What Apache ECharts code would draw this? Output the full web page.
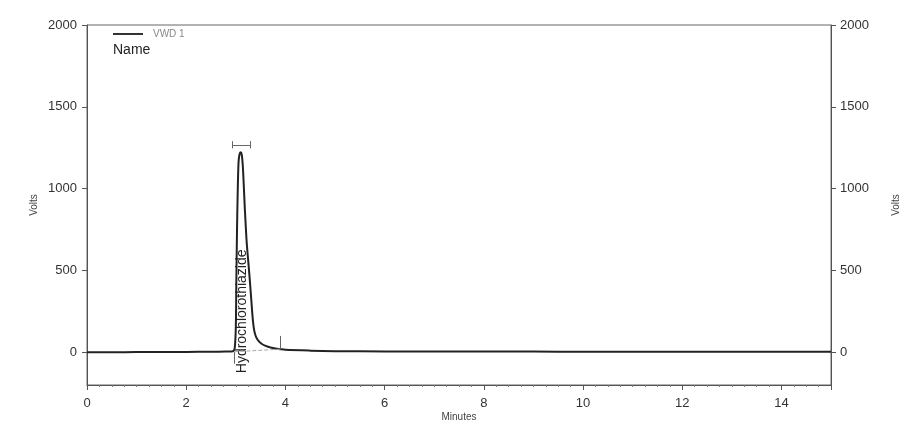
<!DOCTYPE html>
<html>
<head>
<meta charset="utf-8">
<script src="https://cdn.jsdelivr.net/npm/echarts@6/dist/echarts.min.js"></script>
<style>html,body{margin:0;padding:0;background:#fff}#c{width:900px;height:421px}</style>
</head>
<body>
<div id="c"></div>
<script>
// Chromatogram data (minutes, volts)
const times = [0, 0.5, 1, 1.5, 2, 2.5, 2.8, 2.9, 2.95, 2.98, 3.0, 3.01, 3.02, 3.03, 3.04, 3.05, 3.06, 3.08, 3.10, 3.12, 3.14, 3.16, 3.18, 3.20, 3.22, 3.25, 3.28, 3.31, 3.34, 3.37, 3.41, 3.47, 3.55, 3.65, 3.75, 3.9, 4.0, 4.5, 5, 6, 7, 8, 9, 10, 11, 12, 13, 14, 15];
const volts = [0, 0, 1, 1, 2, 3, 4, 5, 7, 30, 150, 400, 650, 850, 1000, 1120, 1180, 1215, 1222, 1208, 1145, 1025, 890, 775, 670, 560, 450, 330, 210, 135, 92, 65, 46, 34, 26, 19, 15, 10, 7, 5, 4, 4, 4, 3, 3, 3, 3, 3, 3];
const xTicks = [0, 2, 4, 6, 8, 10, 12, 14];
const yTicks = [0, 500, 1000, 1500, 2000];
const peakName = 'Hydrochlorothiazide';
const peakLabelPos = [3.125, 250];
const peakStart = [2.97, 3];
const peakEnd = [3.9, 19];
const bracket = [2.93, 3.29, 1268];
const seriesName = 'VWD 1';

const chart = echarts.init(document.getElementById('c'));
const data = times.map((t, i) => [t, volts[i]]);
const font = 'Liberation Sans, Arial, sans-serif';
const yAxisBase = {
  type: 'value', min: -200, max: 2000,
  axisLine: {show: true, lineStyle: {color: '#555', width: 1}},
  axisTick: {show: true, length: 5, lineStyle: {color: '#555'}, customValues: yTicks},
  axisLabel: {color: '#333', fontSize: 13, fontFamily: font, customValues: yTicks,
    formatter: v => String(v)},
  splitLine: {show: false},
  name: 'Volts', nameLocation: 'middle', nameRotate: 90, nameMoveOverlap: false,
  nameTextStyle: {color: '#444', fontSize: 10, fontFamily: font}
};
chart.setOption({
  animation: false,
  backgroundColor: '#fff',
  grid: {left: 87, right: 69, top: 25, bottom: 36, show: true, borderColor: '#666', borderWidth: 1,
    outerBoundsMode: 'none', containLabel: false},
  title: {text: 'Name', left: 113, top: 43, padding: 0,
    textStyle: {fontSize: 14, fontWeight: 'normal', color: '#222', fontFamily: font}},
  legend: {
    left: 113, top: 29, padding: 0, itemWidth: 30, itemHeight: 2, itemGap: 5,
    icon: 'rect',
    data: [seriesName],
    textStyle: {color: '#888', fontSize: 10, fontFamily: font, padding: [0, 0, 0, 5]}
  },
  xAxis: {
    type: 'value', min: 0, max: 15, interval: 2,
    axisLine: {show: true, onZero: false, lineStyle: {color: '#555'}},
    axisTick: {show: true, length: 5, lineStyle: {color: '#555'}},
    minorTick: {show: true, splitNumber: 8, length: 2, lineStyle: {color: '#777'}},
    axisLabel: {color: '#333', fontSize: 13, fontFamily: font, margin: 12,
      customValues: xTicks},
    splitLine: {show: false},
    name: 'Minutes', nameLocation: 'middle', nameGap: 27, nameMoveOverlap: false,
    nameTextStyle: {color: '#444', fontSize: 10, fontFamily: font}
  },
  yAxis: [
    Object.assign({}, yAxisBase, {position: 'left', nameGap: 48,
      axisLabel: Object.assign({}, yAxisBase.axisLabel, {margin: 10})}),
    Object.assign({}, yAxisBase, {position: 'right', nameGap: 60,
      axisLabel: Object.assign({}, yAxisBase.axisLabel, {margin: 9})})
  ],
  series: [{
    name: seriesName,
    type: 'line',
    data: data,
    showSymbol: false,
    smooth: 0.3,
    lineStyle: {color: '#222', width: 2},
    itemStyle: {color: '#333'},
    markLine: {
      silent: true, symbol: ['none', 'none'],
      label: {show: false},
      lineStyle: {color: '#666', width: 1, type: 'solid'},
      data: [
        [{coord: [bracket[0], bracket[2]]}, {coord: [bracket[1], bracket[2]]}],
        [{coord: [bracket[0], bracket[2] - 22]}, {coord: [bracket[0], bracket[2] + 22]}],
        [{coord: [bracket[1], bracket[2] - 22]}, {coord: [bracket[1], bracket[2] + 22]}],
        [{coord: [peakStart[0], peakStart[1]]}, {coord: [peakStart[0], -70]}],
        [{coord: [peakEnd[0], peakEnd[1]]}, {coord: [peakEnd[0], 100]}],
        [{coord: peakStart, lineStyle: {type: 'dashed', color: '#aaa'}}, {coord: peakEnd}]
      ]
    },
    markPoint: {
      silent: true, symbol: 'circle', symbolSize: 0,
      data: [{coord: peakLabelPos, value: peakName}],
      label: {show: true, rotate: 90, position: 'inside', formatter: peakName,
        color: '#222', fontSize: 14, fontFamily: font}
    }
  }]
});
</script>
</body>
</html>
